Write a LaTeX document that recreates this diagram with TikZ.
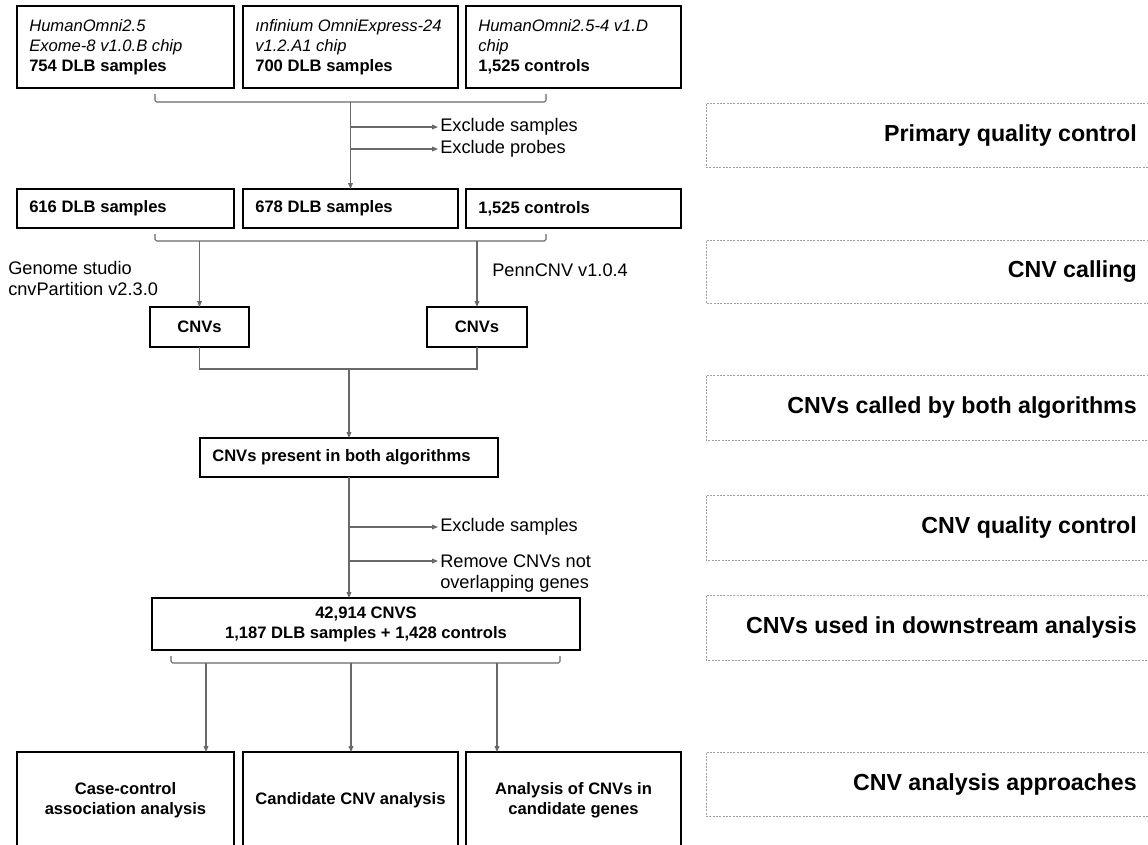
\documentclass[tikz,border=0pt]{standalone}
\usepackage{fontspec}
\setmainfont{Liberation Sans}
\usetikzlibrary{arrows.meta}
\definecolor{connc}{RGB}{105,105,105}
\definecolor{dashc}{RGB}{160,160,160}
\begin{document}
\begin{tikzpicture}[x=0.75pt,y=-0.75pt,
  box/.style={draw=black,line width=1.9pt,inner sep=0pt,outer sep=0pt},
  conn/.style={draw=connc,line width=0.8pt},
  bracket/.style={conn,rounded corners=1.2pt},
  arr/.style={conn,-{Triangle[length=4.5pt,width=3.6pt]}},
  boxtxt/.style={inner sep=0pt,font=\fontsize{12.45pt}{15pt}\selectfont,align=left},
  ctxt/.style={font=\fontsize{12.45pt}{15pt}\selectfont\bfseries,align=center},
  lbl/.style={inner sep=1.5pt,font=\fontsize{13.65pt}{15.75pt}\selectfont,align=left},
  dashbox/.style={draw=dashc,line width=0.75pt,dash pattern=on 1.5pt off 1pt},
  phase/.style={inner sep=0pt,font=\fontsize{17.4pt}{20pt}\selectfont\bfseries,anchor=east}
]
\useasboundingbox (0,0) rectangle (1148,844);

% ---------- right-hand phase panels ----------
\draw[dashbox] (1152,103) -| (706,167) -- (1152,167);
\node[phase] (p1) at (1137,135) {Primary quality control};
\draw[dashbox] (1152,240) -| (706,303) -- (1152,303);
\node[phase] (p2) at (1137,271.5) {CNV calling};
\draw[dashbox] (1152,375) -| (706,440) -- (1152,440);
\node[phase] (p3) at (1137,407.5) {CNVs called by both algorithms};
\draw[dashbox] (1152,495) -| (706,560) -- (1152,560);
\node[phase] (p4) at (1137,527.5) {CNV quality control};
\draw[dashbox] (1152,595) -| (706,660) -- (1152,660);
\node[phase] (p5) at (1137,627.5) {CNVs used in downstream analysis};
\draw[dashbox] (1152,752) -| (706,816) -- (1152,816);
\node[phase] (p6) at (1137,784) {CNV analysis approaches};

% ---------- top row: chips ----------
\node[box,minimum width=162.75pt,minimum height=61.5pt] (b1) at (125.5,47) {};
\node[box,minimum width=161.25pt,minimum height=61.5pt] (b2) at (350.5,47) {};
\node[box,minimum width=161.25pt,minimum height=61.5pt] (b3) at (573.5,47) {};
\node[boxtxt,anchor=west] (t1) at ([xshift=9pt]b1.west)
  {\textit{HumanOmni2.5}\\\textit{Exome-8 v1.0.B chip}\\\textbf{754 DLB samples}};
\node[boxtxt,anchor=west] (t2) at ([xshift=9pt]b2.west)
  {\textit{ınfinium OmniExpress-24}\\\textit{v1.2.A1 chip}\\\textbf{700 DLB samples}};
\node[boxtxt,anchor=west] (t3) at ([xshift=9pt]b3.west)
  {\textit{HumanOmni2.5-4 v1.D}\\\textit{chip}\\\textbf{1,525 controls}};

% bracket 1 and QC
\draw[bracket] (155,94) |- (350.5,102) -| (546,94);
\coordinate (j1) at (350.5,102);
\node[box,minimum width=162.75pt,minimum height=29.25pt] (r1) at (125.5,208.5) {};
\node[box,minimum width=161.25pt,minimum height=29.25pt] (r2) at (350.5,208.5) {};
\node[box,minimum width=161.25pt,minimum height=29.25pt] (r3) at (573.5,208.5) {};
\draw[arr] (j1) -- (r2.north);
\coordinate (e1s) at (350.5,127);
\coordinate (e2s) at (350.5,149);
\node[lbl,anchor=west] (e1) at (438,127) {Exclude samples};
\node[lbl,anchor=west] (e2) at (438,149) {Exclude probes};
\draw[arr] (e1s) -- (e1.west);
\draw[arr] (e2s) -- (e2.west);

\node[boxtxt,anchor=west,font=\fontsize{12.45pt}{15pt}\selectfont\bfseries] (rt1) at ([xshift=9pt]r1.west) {616 DLB samples};
\node[boxtxt,anchor=west,font=\fontsize{12.45pt}{15pt}\selectfont\bfseries] (rt2) at ([xshift=9pt]r2.west) {678 DLB samples};
\node[boxtxt,anchor=west,font=\fontsize{12.45pt}{15pt}\selectfont\bfseries] (rt3) at ([xshift=9pt]r3.west) {1,525 controls};

% bracket 2 and CNV calling
\draw[bracket] (155,234) |- (350.5,241) -| (546,234);
\coordinate (j2a) at (199.5,241);
\coordinate (j2b) at (477,241);
\node[box,ctxt,minimum width=74.25pt,minimum height=30pt] (c1) at (199.5,327) {CNVs};
\node[box,ctxt,minimum width=75pt,minimum height=30pt] (c2) at (477,327) {CNVs};
\draw[arr] (j2a) -- (c1.north);
\draw[arr] (j2b) -- (c2.north);
\node[lbl,anchor=west] (g1) at (6,278) {Genome studio\\cnvPartition v2.3.0};
\node[lbl,anchor=west] (g2) at (490,270) {PennCNV v1.0.4};

% merge
\coordinate (j3) at (349,369);
\draw[conn] (c1.south) |- (j3) -| (c2.south);
\node[box,minimum width=223.5pt,minimum height=29.25pt] (pr) at (349,457.5) {};
\node[boxtxt,anchor=west,font=\fontsize{12.45pt}{15pt}\selectfont\bfseries] (prt) at ([xshift=9pt]pr.west) {CNVs present in both algorithms};
\draw[arr] (j3) -- (pr.north);

% CNV QC
\node[box,ctxt,minimum width=321pt,minimum height=39pt] (big) at (366,624) {42,914 CNVS\\1,187 DLB samples + 1,428 controls};
\draw[arr] (pr.south) -- (pr.south |- big.north);
\coordinate (e3s) at (349,527);
\coordinate (e4s) at (349,561);
\node[lbl,anchor=west] (e3) at (438,527) {Exclude samples};
\node[lbl,anchor=north west] (e4) at (438,552.5) {Remove CNVs not\\overlapping genes};
\draw[arr] (e3s) -- (e3.west);
\draw[arr] (e4s) -- (e4.west |- e4s);

% bracket 3 and analyses
\draw[bracket] (171,656) |- (365.5,663) -| (560,656);
\coordinate (j4a) at (206,663);
\coordinate (j4b) at (351,663);
\coordinate (j4c) at (497,663);
\node[box,ctxt,minimum width=162.75pt,minimum height=72pt] (d1) at (125.5,800) {Case-control\\association analysis};
\node[box,ctxt,minimum width=161.25pt,minimum height=72pt] (d2) at (350.5,800) {Candidate CNV analysis};
\node[box,ctxt,minimum width=161.25pt,minimum height=72pt] (d3) at (573.5,800) {Analysis of CNVs in\\candidate genes};
\draw[arr] (j4a) -- (j4a |- d1.north);
\draw[arr] (j4b) -- (j4b |- d2.north);
\draw[arr] (j4c) -- (j4c |- d3.north);
\end{tikzpicture}
\end{document}
